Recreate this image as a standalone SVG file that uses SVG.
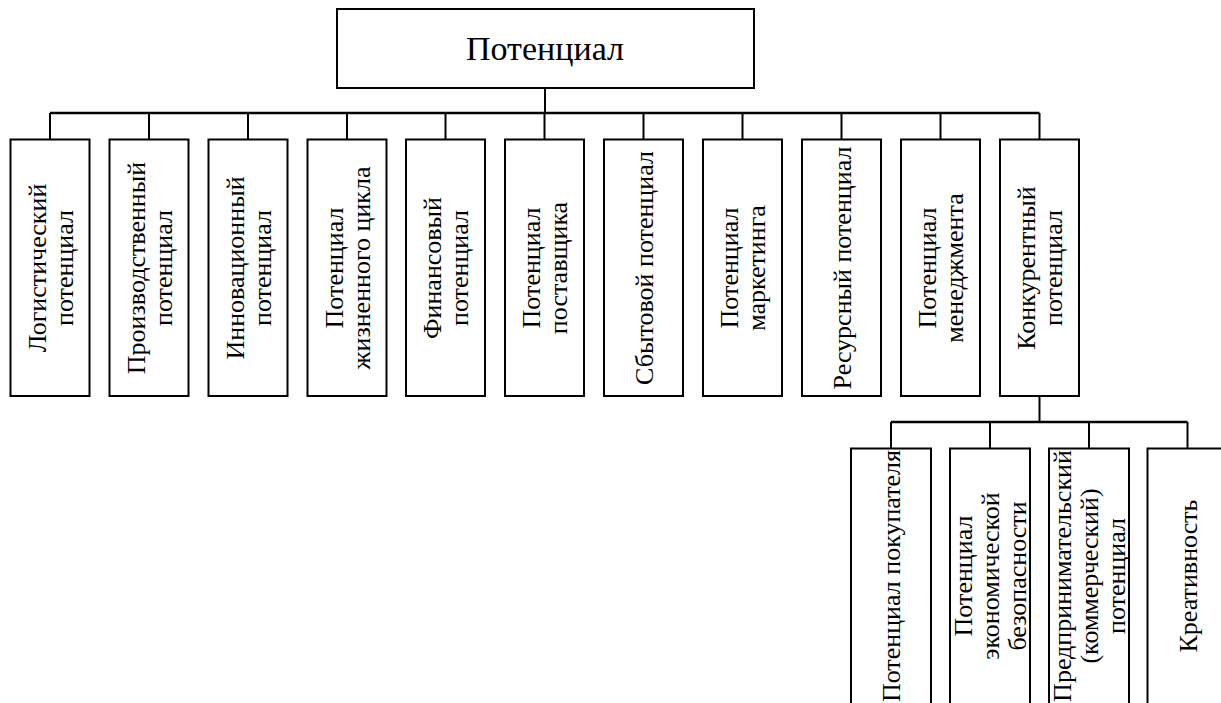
<svg xmlns="http://www.w3.org/2000/svg" width="1221" height="703" viewBox="0 0 1221 703">
  <style>
    .box { fill: #ffffff; stroke: #000000; stroke-width: 2; }
    .wire { fill: none; stroke: #000000; stroke-width: 2; }
    .bus { fill: none; stroke: #000000; stroke-width: 2.5; }
    .lbl { font-family: "Liberation Serif", "Times New Roman", serif; font-size: 26px; fill: #000000; text-anchor: middle; }
    .title { font-family: "Liberation Serif", "Times New Roman", serif; font-size: 34px; fill: #000000; text-anchor: middle; }
  </style>
  <rect width="1221" height="703" fill="#ffffff"/>

  <!-- connectors -->
  <g id="connectors">
    <path class="wire" d="M545 88 V113"/>
    <path class="bus" d="M50 113 H1039.5"/>
    <path class="wire" d="M50 113 V139.5 M149 113 V139.5 M248 113 V139.5 M347 113 V139.5 M445.5 113 V139.5 M544.5 113 V139.5 M643.5 113 V139.5 M742.5 113 V139.5 M841.5 113 V139.5 M940.5 113 V139.5 M1039.5 113 V139.5"/>
    <path class="wire" d="M1039.5 396 V422"/>
    <path class="bus" d="M891 422 H1187.5"/>
    <path class="wire" d="M891 422 V448.5 M990 422 V448.5 M1089 422 V448.5 M1187.5 422 V448.5"/>
  </g>

  <!-- root -->
  <g id="root">
    <rect class="box" x="337" y="9" width="417" height="79"/>
    <text class="title" x="545" y="60">Потенциал</text>
  </g>

  <!-- first level -->
  <g id="n1">
    <rect class="box" x="10.5" y="139.5" width="79" height="256.5"/>
    <text class="lbl" transform="translate(50,268) rotate(-90)"><tspan x="0" y="-4.5">Логистический</tspan><tspan x="0" y="22.5">потенциал</tspan></text>
  </g>
  <g id="n2">
    <rect class="box" x="109.5" y="139.5" width="79" height="256.5"/>
    <text class="lbl" transform="translate(149,268) rotate(-90)"><tspan x="0" y="-4.5">Производственный</tspan><tspan x="0" y="22.5">потенциал</tspan></text>
  </g>
  <g id="n3">
    <rect class="box" x="208.5" y="139.5" width="79" height="256.5"/>
    <text class="lbl" transform="translate(248,268) rotate(-90)"><tspan x="0" y="-4.5">Инновационный</tspan><tspan x="0" y="22.5">потенциал</tspan></text>
  </g>
  <g id="n4">
    <rect class="box" x="307.5" y="139.5" width="79" height="256.5"/>
    <text class="lbl" transform="translate(347,268) rotate(-90)"><tspan x="0" y="-4.5">Потенциал</tspan><tspan x="0" y="22.5">жизненного цикла</tspan></text>
  </g>
  <g id="n5">
    <rect class="box" x="406" y="139.5" width="79" height="256.5"/>
    <text class="lbl" transform="translate(445.5,268) rotate(-90)"><tspan x="0" y="-4.5">Финансовый</tspan><tspan x="0" y="22.5">потенциал</tspan></text>
  </g>
  <g id="n6">
    <rect class="box" x="505" y="139.5" width="79" height="256.5"/>
    <text class="lbl" transform="translate(544.5,268) rotate(-90)"><tspan x="0" y="-4.5">Потенциал</tspan><tspan x="0" y="22.5">поставщика</tspan></text>
  </g>
  <g id="n7">
    <rect class="box" x="604" y="139.5" width="79" height="256.5"/>
    <text class="lbl" transform="translate(643.5,268) rotate(-90)"><tspan x="0" y="9">Сбытовой потенциал</tspan></text>
  </g>
  <g id="n8">
    <rect class="box" x="703" y="139.5" width="79" height="256.5"/>
    <text class="lbl" transform="translate(742.5,268) rotate(-90)"><tspan x="0" y="-4.5">Потенциал</tspan><tspan x="0" y="22.5">маркетинга</tspan></text>
  </g>
  <g id="n9">
    <rect class="box" x="802" y="139.5" width="79" height="256.5"/>
    <text class="lbl" transform="translate(841.5,268) rotate(-90)"><tspan x="0" y="9">Ресурсный потенциал</tspan></text>
  </g>
  <g id="n10">
    <rect class="box" x="901" y="139.5" width="79" height="256.5"/>
    <text class="lbl" transform="translate(940.5,268) rotate(-90)"><tspan x="0" y="-4.5">Потенциал</tspan><tspan x="0" y="22.5">менеджмента</tspan></text>
  </g>
  <g id="n11">
    <rect class="box" x="1000" y="139.5" width="79" height="256.5"/>
    <text class="lbl" transform="translate(1039.5,268) rotate(-90)"><tspan x="0" y="-4.5">Конкурентный</tspan><tspan x="0" y="22.5">потенциал</tspan></text>
  </g>

  <!-- second level -->
  <g id="s1">
    <rect class="box" x="851" y="448.5" width="80" height="262"/>
    <text class="lbl" transform="translate(891,576) rotate(-90)"><tspan x="0" y="9">Потенциал покупателя</tspan></text>
  </g>
  <g id="s2">
    <rect class="box" x="950" y="448.5" width="80" height="262"/>
    <text class="lbl" transform="translate(990,576) rotate(-90)"><tspan x="0" y="-18.5">Потенциал</tspan><tspan x="0" y="8.5">экономической</tspan><tspan x="0" y="35.5">безопасности</tspan></text>
  </g>
  <g id="s3">
    <rect class="box" x="1049" y="448.5" width="80" height="262"/>
    <text class="lbl" transform="translate(1089,576) rotate(-90)"><tspan x="0" y="-18.5">Предпринимательский</tspan><tspan x="0" y="8.5">(коммерческий)</tspan><tspan x="0" y="35.5">потенциал</tspan></text>
  </g>
  <g id="s4">
    <rect class="box" x="1147.5" y="448.5" width="80" height="262"/>
    <text class="lbl" transform="translate(1187.5,576) rotate(-90)"><tspan x="0" y="9">Креативность</tspan></text>
  </g>
</svg>
